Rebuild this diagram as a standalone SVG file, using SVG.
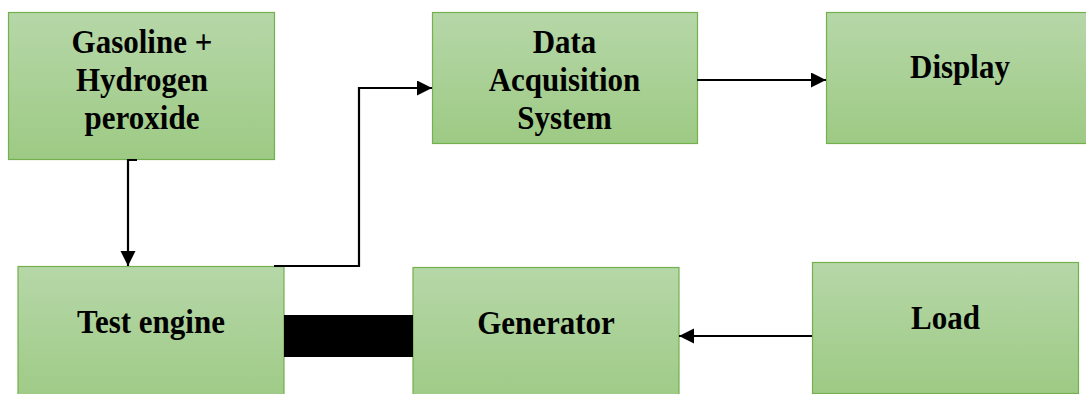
<svg xmlns="http://www.w3.org/2000/svg" width="1086" height="394" viewBox="0 0 1086 394">
  <defs>
    <linearGradient id="boxFill" x1="0" y1="0" x2="0" y2="1">
      <stop offset="0" stop-color="#b6d7a8"/>
      <stop offset="1" stop-color="#9dca84"/>
    </linearGradient>
    <marker id="arrow" markerUnits="userSpaceOnUse" markerWidth="16" markerHeight="16" refX="15" refY="7.5" orient="auto">
      <path d="M0,0 L15,7.5 L0,15 Z" fill="#000"/>
    </marker>
    <style>
      .box { fill: url(#boxFill); stroke: #74b04d; stroke-width: 1.2; }
      .label { font-family: "Liberation Serif", "Times New Roman", serif; font-weight: bold; font-size: 31px; fill: #000; text-anchor: middle; }
      .wire { fill: none; stroke: #000; stroke-width: 2.2; }
      .arrowed { marker-end: url(#arrow); }
    </style>
  </defs>

  <rect width="1086" height="394" fill="#fff"/>

  <!-- Nodes: labels are set at their baseline and stretched slightly upright -->
  <g id="fuel">
    <rect class="box" x="8.5" y="12.5" width="266" height="147"/>
    <text class="label" transform="translate(142 53) scale(1 1.1)">Gasoline +</text>
    <text class="label" transform="translate(142 91) scale(1 1.1)">Hydrogen</text>
    <text class="label" transform="translate(142 129) scale(1 1.1)">peroxide</text>
  </g>

  <g id="daq">
    <rect class="box" x="432.5" y="12.5" width="265" height="131"/>
    <text class="label" transform="translate(564.5 53) scale(1 1.1)">Data</text>
    <text class="label" transform="translate(564.5 91) scale(1 1.1)">Acquisition</text>
    <text class="label" transform="translate(564.5 129) scale(1 1.1)">System</text>
  </g>

  <g id="display">
    <rect class="box" x="826.5" y="12.5" width="268" height="131"/>
    <text class="label" transform="translate(960 78) scale(1 1.1)">Display</text>
  </g>

  <g id="engine">
    <rect class="box" x="18" y="266.5" width="266" height="140"/>
    <text class="label" transform="translate(151 333) scale(1 1.1)">Test engine</text>
  </g>

  <g id="generator">
    <rect class="box" x="413" y="267.5" width="266" height="140"/>
    <text class="label" transform="translate(546 334) scale(1 1.1)">Generator</text>
  </g>

  <g id="load">
    <rect class="box" x="812.5" y="262.5" width="266" height="131"/>
    <text class="label" transform="translate(945.5 329) scale(1 1.1)">Load</text>
  </g>

  <!-- Connectors -->
  <g id="connectors">
    <path class="wire arrowed" d="M137,160 H128 V266"/>
    <path class="wire arrowed" d="M274,266 H359 V88 H432"/>
    <path class="wire arrowed" d="M697,80 H826"/>
    <path class="wire arrowed" d="M812,336 H679"/>
    <!-- shaft coupling between engine and generator -->
    <rect x="284" y="315" width="129" height="42" fill="#000"/>
  </g>
</svg>
